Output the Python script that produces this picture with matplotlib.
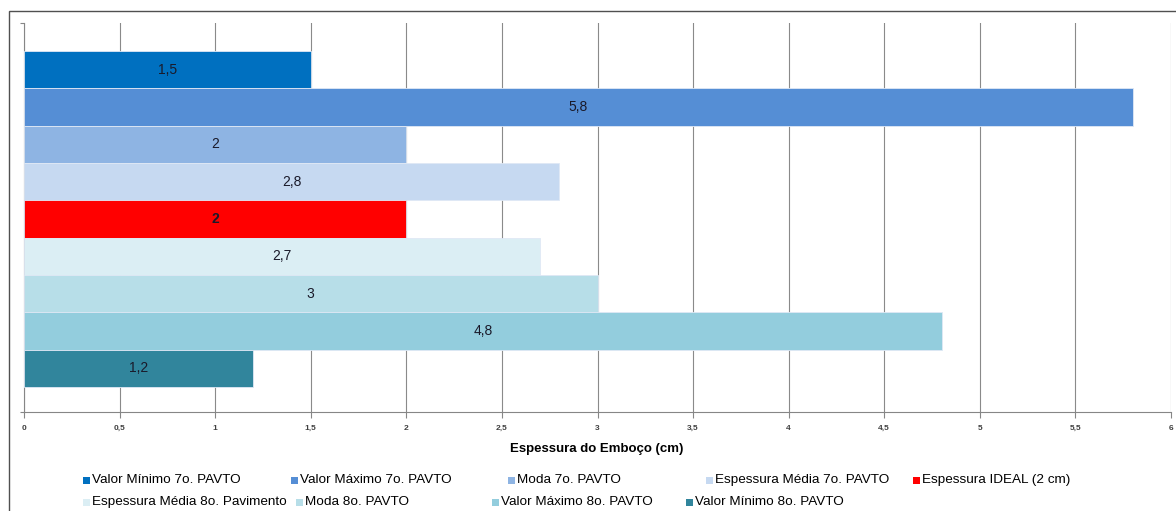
import matplotlib
matplotlib.use("Agg")
import matplotlib.pyplot as plt
from matplotlib.patches import Rectangle

plt.rcParams['font.family'] = ['Liberation Sans', 'DejaVu Sans']

series = [
    "Valor Mínimo 7o. PAVTO",
    "Valor Máximo 7o. PAVTO",
    "Moda 7o. PAVTO",
    "Espessura Média 7o. PAVTO",
    "Espessura IDEAL (2 cm)",
    "Espessura Média 8o. Pavimento",
    "Moda 8o. PAVTO",
    "Valor Máximo 8o. PAVTO",
    "Valor Mínimo 8o. PAVTO",
]
values = [1.5, 5.8, 2.0, 2.8, 2.0, 2.7, 3.0, 4.8, 1.2]
labels = ["1,5", "5,8", "2", "2,8", "2", "2,7", "3", "4,8", "1,2"]
colors = ["#0070C0", "#558ED5", "#8EB4E3", "#C6D9F1", "#FF0000",
          "#DBEEF4", "#B7DEE8", "#93CDDD", "#31859C"]
xticks = [0, 0.5, 1, 1.5, 2, 2.5, 3, 3.5, 4, 4.5, 5, 5.5, 6]
xtick_labels = ["0", "0,5", "1", "1,5", "2", "2,5", "3", "3,5", "4", "4,5", "5", "5,5", "6"]

W, H = 1176, 511
fig = plt.figure(figsize=(W / 100, H / 100), dpi=100)
ax = fig.add_axes([24 / W, 1 - 412 / H, (1171 - 24) / W, (412 - 23) / H])

n = len(values)
h = 336 / n / 389
gap = 28 / 389
for i, (v, c, lab) in enumerate(zip(values, colors, labels)):
    yc = gap + h * (i + 0.5)
    ax.barh(yc, v, height=h, color=c, edgecolor="#dfe8f5", linewidth=0.6, zorder=3)
    ax.text(v / 2, yc, lab, ha="center", va="center", fontsize=10,
            color="#1a1a2a", zorder=4,
            fontweight="bold" if c == "#FF0000" else "normal")

ax.set_xlim(0, 6)
ax.set_ylim(1, 0)
ax.set_xticks(xticks)
ax.set_xticklabels(xtick_labels, fontsize=6, fontweight="bold", color="#404040")
ax.set_yticks([0, 1])
ax.set_yticklabels([])
ax.tick_params(axis="x", direction="out", length=4, width=0.8, color="#868686", pad=5)
ax.tick_params(axis="y", direction="out", length=3, width=0.8, color="#868686")
ax.grid(axis="x", color="#8a8a8a", linewidth=0.8, zorder=0)
for side in ["top", "right"]:
    ax.spines[side].set_visible(False)
for side in ["left", "bottom"]:
    ax.spines[side].set_color("#868686")
    ax.spines[side].set_linewidth(0.8)

fig.text(597 / W, 1 - 449 / H, "Espessura do Emboço (cm)", ha="center", va="center",
         fontsize=9.5, fontweight="bold")

# legend laid out in two rows
legend_pos = [(83, 480), (291, 480), (508, 480), (706, 480), (913, 480),
              (83, 502), (296, 502), (492, 502), (686, 502)]
sq = 7
for (x, y), name, c in zip(legend_pos, series, colors):
    fig.patches.append(Rectangle((x / W, 1 - (y + sq / 2) / H), sq / W, sq / H,
                                 transform=fig.transFigure, facecolor=c,
                                 edgecolor="none"))
    fig.text((x + sq + 2) / W, 1 - y / H, name, ha="left", va="center", fontsize=9.7)

# chart frame
fig.patches.append(Rectangle((9 / W, -0.05), 1.2, 1 - 11 / H + 0.05,
                             transform=fig.transFigure, facecolor="none",
                             edgecolor="#505050", linewidth=1.0))

fig.savefig("out.png", dpi=100)
